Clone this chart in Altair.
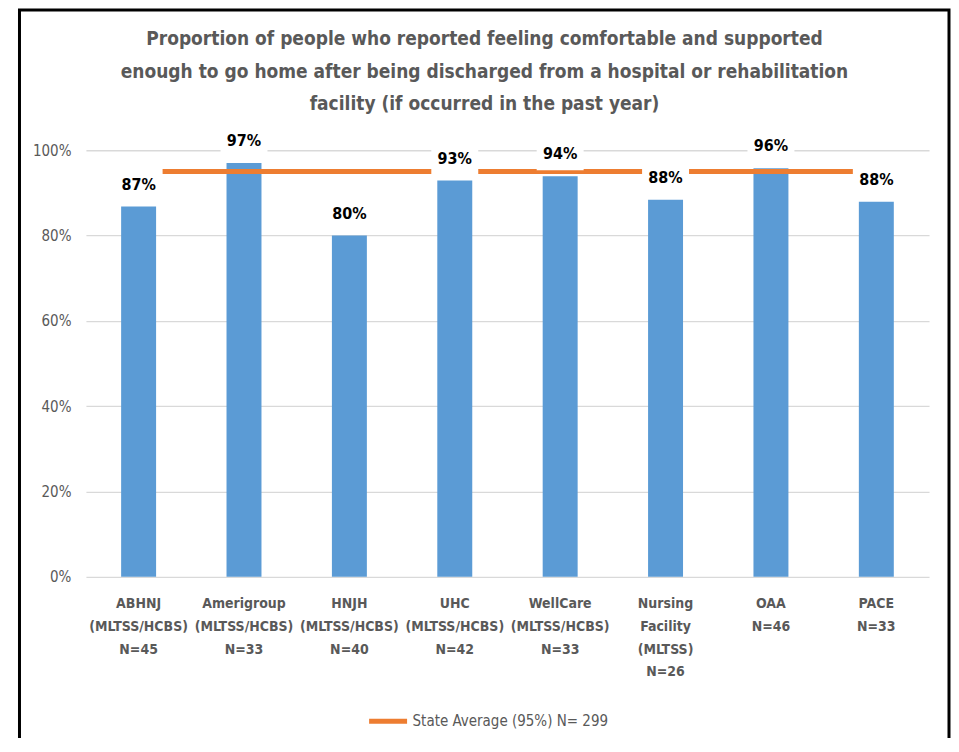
import altair as alt
import pandas as pd

categories = [
    "ABHNJ|(MLTSS/HCBS)|N=45",
    "Amerigroup|(MLTSS/HCBS)|N=33",
    "HNJH|(MLTSS/HCBS)|N=40",
    "UHC|(MLTSS/HCBS)|N=42",
    "WellCare|(MLTSS/HCBS)|N=33",
    "Nursing|Facility|(MLTSS)|N=26",
    "OAA|N=46",
    "PACE|N=33",
]
values = [86.8, 97.0, 80.0, 92.9, 93.9, 88.4, 95.8, 87.9]
state_avg = 95
state_label = "State Average (95%) N= 299"
title_lines = [
    "Proportion of people who reported feeling comfortable and supported",
    "enough to go home after being discharged from a hospital or rehabilitation",
    "facility (if occurred in the past year)",
]
y_ticks = [0, 20, 40, 60, 80, 100]

df = pd.DataFrame({"cat": categories, "value": values})
avg_df = pd.DataFrame({"first": [categories[0]], "last": [categories[-1]],
                       "avg": [state_avg], "series": [state_label]})

GRAY = "#595959"
NARROW = "DejaVu Sans Condensed, Roboto"

xscale = alt.Scale(domain=categories, paddingInner=0, paddingOuter=0)
yscale = alt.Scale(domain=[0, 100])

x_axis = alt.Axis(labelExpr="split(datum.label, '|')", labelAngle=0, labelFont=NARROW,
                  labelFontWeight="bold", labelFontSize=14, labelColor=GRAY,
                  labelLineHeight=22.7, labelPadding=20, ticks=False, domain=False,
                  title=None, labelOverlap=False, grid=False)
y_axis = alt.Axis(values=y_ticks, labelExpr="datum.value + '%'", grid=True,
                  gridColor="#D9D9D9", gridWidth=1.3, domain=False, ticks=False,
                  labelFont=NARROW, labelFontSize=15, labelColor=GRAY,
                  labelPadding=15, title=None)

border = alt.Chart(alt.Data(values=[{}])).mark_rect(
    fillOpacity=0, stroke="black", strokeWidth=3
).encode(x=alt.value(-66.5), x2=alt.value(864), y=alt.value(-140.5), y2=alt.value(620))

bars = alt.Chart(df).mark_bar(width=35, color="#5B9BD5").encode(
    x=alt.X("cat:N", scale=xscale, axis=x_axis),
    y=alt.Y("value:Q", scale=yscale, axis=y_axis),
)

rule = alt.Chart(avg_df).mark_rule(strokeWidth=5, xOffset=24, x2Offset=-22).encode(
    x=alt.X("first:N", scale=xscale),
    x2="last:N",
    y=alt.Y("avg:Q", scale=yscale),
    color=alt.Color("series:N", scale=alt.Scale(range=["#ED7D31"]),
                    legend=alt.Legend(title=None, orient="none", legendX=281, legendY=550,
                                      symbolType="stroke", symbolSize=1444,
                                      symbolStrokeWidth=5, labelFont=NARROW,
                                      labelFontSize=15, labelColor=GRAY, labelOffset=3,
                                      labelLimit=400, padding=0)),
)

box_shape = "M-1,-0.6L1,-0.6L1,0.6L-1,0.6Z"
boxes = alt.Chart(df).mark_point(shape=box_shape, size=2209, filled=True, color="white",
                                 opacity=1, strokeWidth=0, yOffset=-20).encode(
    x=alt.X("cat:N", scale=xscale),
    y=alt.Y("value:Q", scale=yscale),
)

labels = alt.Chart(df).transform_calculate(
    lab="format(datum.value, '.0f') + '%'"
).mark_text(dy=-22, baseline="middle", font=NARROW, fontWeight="bold",
            fontSize=16, color="black").encode(
    x=alt.X("cat:N", scale=xscale),
    y=alt.Y("value:Q", scale=yscale),
    text="lab:N",
)

chart = alt.layer(border, bars, rule, boxes, labels).properties(
    width=844, height=427,
    autosize="none",
    padding={"left": 78, "top": 142, "right": 22, "bottom": 161},
    title=alt.TitleParams(text=title_lines, font=NARROW, fontSize=19, fontWeight="bold",
                          color=GRAY, anchor="middle", dx=-23, offset=-106,
                          lineHeight=32.5),
).configure_view(stroke=None)

chart.save("out.html", embed_options={"renderer": "svg", "actions": False})
